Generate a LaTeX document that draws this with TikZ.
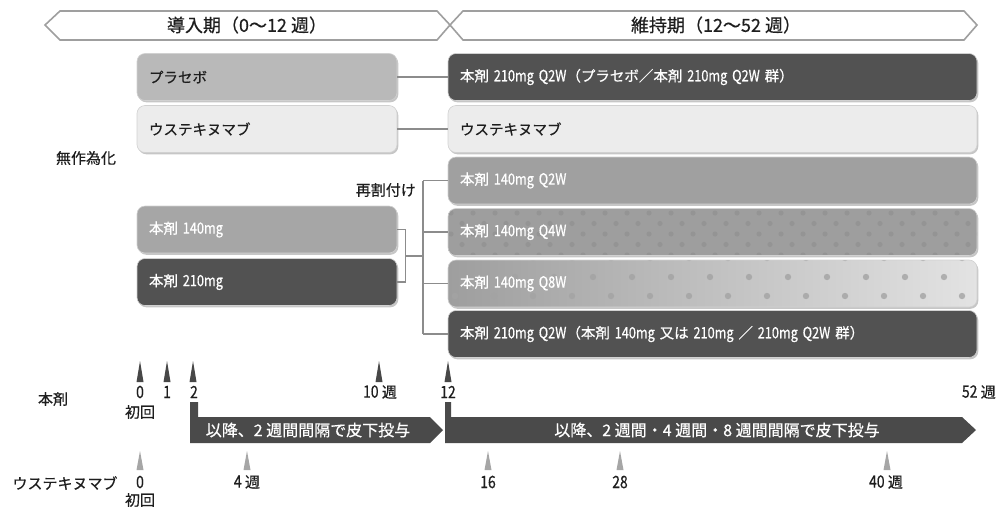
\documentclass[tikz,border=0pt]{standalone}
\usepackage{fontspec}
\setmainfont{Noto Sans CJK JP}[FakeBold=0.6]
\newfontfamily\condfont{Noto Sans CJK JP}[FakeStretch=0.82,FakeBold=0.6]
\newcommand\lcn[1]{{\condfont\fontsize{15.5}{17}\selectfont #1}}
\newcommand\lnum[1]{{\condfont\fontsize{17}{17}\selectfont #1}}
\usetikzlibrary{shadows,calc}
\definecolor{dk}{HTML}{525252}
\definecolor{md}{HTML}{A6A6A6}
\definecolor{mdb}{HTML}{A0A0A0}
\definecolor{lt}{HTML}{ECECEC}
\definecolor{pl}{HTML}{B9B9B9}
\definecolor{ln}{HTML}{8C8C8C}
\definecolor{bandc}{HTML}{4A4A4A}
\definecolor{txt}{HTML}{1E1E1E}
\begin{document}
\begin{tikzpicture}[x=1pt,y=-1pt,
  box/.style={rectangle, rounded corners=8pt, minimum height=47pt, inner xsep=12pt, inner ysep=0pt,
    align=left, font=\fontsize{14.5}{17}\selectfont, text=txt, draw=white!82!black, line width=0.6pt,
    drop shadow={shadow xshift=1.3pt, shadow yshift=-1.8pt, opacity=0.45}},
  lbox/.style={box, text width=236pt},
  rbox/.style={box, text width=505pt},
  conn/.style={draw=ln, line width=1.5pt},
  hdr/.style={draw=gray!75, line width=1.6pt, fill=white, line join=miter},
  hfont/.style={font=\fontsize{18}{20}\selectfont, text=txt, inner sep=0pt},
  lab/.style={font=\fontsize{15}{17}\selectfont, text=txt, inner sep=0pt},
  bandtxt/.style={font=\fontsize{16}{18}\selectfont, text=white, inner sep=0pt},
  band/.style={fill=bandc},
  dtri/.style={fill=black!72},
  utri/.style={fill=black!35},
]
\useasboundingbox (0,0) rectangle (1000,509);

% header chevrons
\draw[hdr] (45,25) -- (60,11) -- (437,11) -- (450,25) -- (437,40) -- (60,40) -- cycle;
\draw[hdr] (450,25) -- (463,11) -- (964,11) -- (977,25) -- (964,40) -- (463,40) -- cycle;
\node[hfont] (H1) at (247,25) {導入期（0〜12 週）};
\node[hfont] (H2) at (716,25) {維持期（12〜52 週）};

% left boxes
\node[lbox, fill=pl] (L1) at (267,77) {プラセボ};
\node[lbox, fill=lt] (L2) at (267,129) {ウステキヌマブ};
\node[lbox, fill=md, text=white] (L3) at (267,229.5) {本剤 \lcn{140mg}};
\node[lbox, fill=dk, text=white] (L4) at (267,282) {本剤 \lcn{210mg}};

% right boxes
\node[rbox, fill=dk, text=white] (R1) at (712.5,77) {本剤 \lcn{210mg Q2W}（プラセボ／本剤 \lcn{210mg Q2W} 群）};
\node[rbox, fill=lt] (R2) at (712.5,129) {ウステキヌマブ};
\node[rbox, fill=mdb, text=white] (R3) at (712.5,180.5) {本剤 \lcn{140mg Q2W}};
\node[rbox, left color=black!38, middle color=black!20, right color=black!38, text=white,
  path picture={
    \foreach \yy/\xo in {4.5/3, 15/14, 25.5/3, 36/14, 46.5/3}{
      \foreach \k in {0,...,24}{
        \pgfmathsetmacro\xx{\xo+22*\k}
        \fill[black!45, opacity=0.5] ($(path picture bounding box.north west)+(\xx pt,-\yy pt)$) circle (2.6pt);
      }
    }
  }] (R4) at (712.5,232) {本剤 \lcn{140mg Q4W}};
\node[rbox, left color=black!38, right color=black!11, text=white,
  path picture={
    \foreach \yy/\xo in {-2/7, 17/28, 36/7}{
      \foreach \k in {0,...,14}{
        \pgfmathsetmacro\xx{\xo+39*\k}
        \fill[black!36, opacity=0.8] ($(path picture bounding box.north west)+(\xx pt,-\yy pt)$) circle (3.2pt);
      }
    }
  }] (R5) at (712.5,283.5) {本剤 \lcn{140mg Q8W}};
\node[rbox, fill=dk, text=white] (R6) at (712.5,334) {本剤 \lcn{210mg Q2W}（本剤 \lcn{140mg} 又は \lcn{210mg} ／ \lcn{210mg Q2W} 群）};

% connectors
\draw[conn] (L1) -- (R1);
\draw[conn] (L2) -- (R2);
\draw[conn] (L3.east) -- ++(8,0) |- (L4.east);
\coordinate (jm) at ($(L3.east)!0.5!(L4.east)+(8,0)$);
\coordinate (vx) at (423,0);
\draw[conn] (jm) -- (jm -| vx);
\draw[conn] (vx |- R3) -- (vx |- R6);
\foreach \r in {R3,R4,R5,R6}{
  \draw[conn] (vx |- \r) -- (\r.west);
}

% side labels
\node[lab] (rand) at (86,158) {無作為化};
\node[lab, anchor=east] (realloc) at (416,190) {再割付け};
\node[lab] (drugL) at (53,399) {本剤};
\node[lab] (ustL) at (65,483) {ウステキヌマブ};

% drug timeline
\foreach \x in {140,167,193,379,448}{
  \fill[dtri] (\x-3.5,382) -- (\x,361) -- (\x+3.5,382) -- cycle;
}
\node[lab] (d0) at (140,392) {\lnum{0}};
\node[lab] (d0b) at (140,412) {初回};
\node[lab] (d1) at (167,392) {\lnum{1}};
\node[lab] (d2) at (194,392) {\lnum{2}};
\node[lab] (d10) at (380,392) {\lnum{10} 週};
\node[lab] (d12) at (448,392) {\lnum{12}};
\node[lab, anchor=east] (d52) at (996,392) {\lnum{52} 週};

% bands
\fill[band] (190,402) -- (198,402) -- (198,417) -- (430,417) -- (443,430) -- (430,443) -- (190,443) -- cycle;
\fill[band] (445,402) -- (451,402) -- (451,417) -- (962,417) -- (976,430) -- (962,443) -- (445,443) -- cycle;
\node[bandtxt] (b1) at (308,430) {以降、2 週間間隔で皮下投与};
\node[bandtxt] (b2) at (717,430) {以降、2 週間・4 週間・8 週間間隔で皮下投与};

% ustekinumab timeline
\foreach \x in {140,247,488,620,887}{
  \fill[utri] (\x-3.5,470) -- (\x,451) -- (\x+3.5,470) -- cycle;
}
\node[lab] (u0) at (140,482) {\lnum{0}};
\node[lab] (u0b) at (140,500) {初回};
\node[lab] (u4) at (247,482) {\lnum{4} 週};
\node[lab] (u16) at (488,482) {\lnum{16}};
\node[lab] (u28) at (620,482) {\lnum{28}};
\node[lab] (u40) at (886,482) {\lnum{40} 週};
\end{tikzpicture}
\end{document}
